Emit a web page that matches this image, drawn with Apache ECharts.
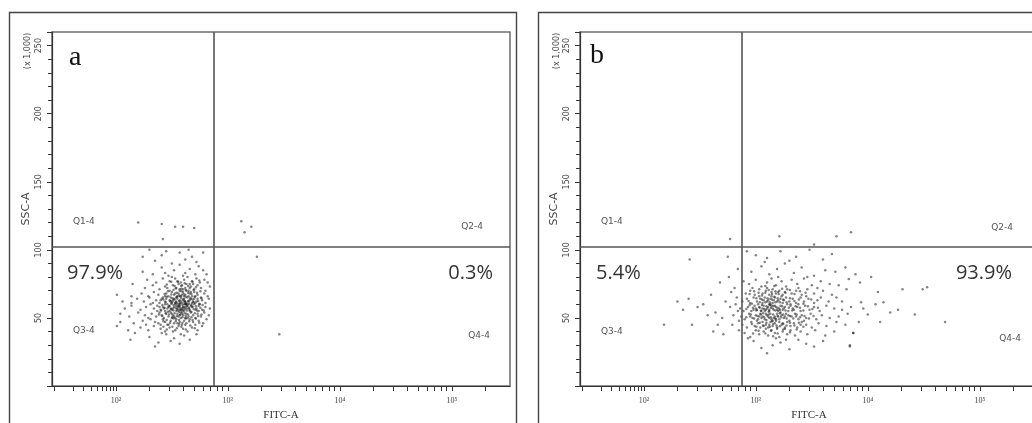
<!DOCTYPE html>
<html>
<head>
<meta charset="utf-8">
<title>FITC-A vs SSC-A quadrant plots</title>
<script src="https://cdn.jsdelivr.net/npm/echarts@6/dist/echarts.min.js"></script>
<style>
  html, body { margin: 0; padding: 0; background: #fff; }
  #main { width: 1032px; height: 423px; }
</style>
</head>
<body>
<div id="main"></div>
<script>
// ---- axis settings ----
const fitcLabelExponents = [2, 3, 4, 5];
const fitcTickLabels = ['10\u00b2', '10\u00b3', '10\u2074', '10\u2075'];
const sscRange = [0, 260];
const sscStep = 50;
const fitcRange = [1.43, 5.52];   // displayed in log10 units

// ---- gates (FITC-A as log10, SSC-A in thousands) ----
const gateFitc = 2.87;
const gateSsc = 102;

// ---- text ----
const panelLetters = ['a', 'b'];
const quadrantNames = ['Q1-4', 'Q2-4', 'Q3-4', 'Q4-4'];
const percentA = ['97.9%', '0.3%'];   // Q3, Q4
const percentB = ['5.4%', '93.9%'];   // Q3, Q4

// ---- events, panel a: [log10 FITC-A, SSC-A (x1000)] ----
const cellsA_Q3 = [
  [2.13,34],[2.17,39],[2.30,36],[2.38,32],[2.45,38],[2.52,35],[2.57,31],[2.61,37],[2.66,34],[2.72,38],[2.49,33],[2.41,39],[2.58,38],[2.35,29],
  [2.11,41],[2.01,44],[2.22,43],[2.29,41],[2.34,44],[2.40,42],[2.44,40],[2.48,43],[2.53,41],[2.56,44],[2.60,42],[2.64,40],[2.68,43],[2.73,41],[2.77,44],[2.51,40],[2.46,45],[2.62,45],
  [2.04,47],[2.16,46],[2.24,48],[2.27,45],[2.31,49],[2.35,47],[2.38,46],[2.42,49],[2.44,47],[2.47,45],[2.49,48],[2.52,46],[2.54,49],[2.57,47],[2.59,45],[2.61,48],[2.63,46],[2.66,49],[2.69,47],[2.71,45],[2.74,48],[2.78,46],[2.81,49],[2.55,46],[2.50,50],[2.64,50],[2.40,45],[2.58,50],
  [2.04,53],[2.12,51],[2.20,54],[2.26,52],[2.29,50],[2.32,53],[2.36,51],[2.39,54],[2.41,52],[2.43,50],[2.45,53],[2.47,51],[2.49,54],[2.51,52],[2.53,50],[2.55,53],[2.56,51],[2.58,54],[2.60,52],[2.62,50],[2.63,53],[2.65,51],[2.67,54],[2.69,52],[2.71,50],[2.73,53],[2.76,51],[2.79,54],[2.83,52],[2.48,55],[2.54,55],[2.61,55],[2.44,55],[2.57,52],[2.66,55],[2.52,51],[2.59,53],[2.37,55],[2.74,55],[2.50,53],
  [2.08,57],[2.14,59],[2.22,56],[2.27,58],[2.31,60],[2.34,57],[2.37,59],[2.40,56],[2.42,58],[2.44,60],[2.46,57],[2.48,59],[2.50,56],[2.52,58],[2.53,60],[2.55,57],[2.57,59],[2.58,56],[2.60,58],[2.61,60],[2.63,57],[2.64,59],[2.66,56],[2.68,58],[2.70,60],[2.72,57],[2.74,59],[2.77,56],[2.80,58],[2.84,57],[2.51,57],[2.56,58],[2.59,57],[2.62,58],[2.65,57],[2.47,58],[2.43,57],[2.54,59],[2.67,59],[2.71,56],[2.49,57],[2.57,56],[2.60,56],[2.63,60],[2.39,58],
  [2.06,62],[2.14,61],[2.19,64],[2.25,62],[2.30,65],[2.33,61],[2.36,63],[2.39,61],[2.41,64],[2.44,62],[2.46,60],[2.48,63],[2.50,61],[2.52,64],[2.54,62],[2.56,60],[2.57,63],[2.59,61],[2.61,64],[2.62,62],[2.64,60],[2.66,63],[2.68,61],[2.70,64],[2.72,62],[2.75,60],[2.77,63],[2.80,61],[2.83,64],[2.53,61],[2.58,62],[2.60,63],[2.63,61],[2.65,62],[2.55,64],[2.67,64],[2.49,62],[2.45,64],[2.71,61],[2.73,64],[2.57,61],[2.62,60],[2.51,63],[2.69,62],[2.40,63],
  [2.14,66],[2.01,67],[2.23,68],[2.29,66],[2.34,69],[2.38,67],[2.42,65],[2.45,68],[2.47,66],[2.50,69],[2.52,67],[2.54,65],[2.56,68],[2.58,66],[2.60,69],[2.62,67],[2.64,65],[2.66,68],[2.68,66],[2.70,69],[2.73,67],[2.76,65],[2.79,68],[2.82,66],[2.57,70],[2.63,70],[2.49,65],[2.59,67],[2.65,66],[2.53,68],[2.71,66],[2.44,66],[2.61,66],[2.67,69],[2.55,66],
  [2.15,75],[2.26,72],[2.33,74],[2.39,71],[2.44,73],[2.48,70],[2.51,74],[2.54,72],[2.57,71],[2.59,74],[2.62,72],[2.65,70],[2.67,73],[2.70,71],[2.73,74],[2.76,72],[2.80,70],[2.84,73],[2.56,75],[2.63,75],[2.69,75],[2.46,72],[2.60,71],[2.66,72],
  [2.28,78],[2.36,76],[2.42,79],[2.48,77],[2.53,79],[2.58,76],[2.61,78],[2.64,80],[2.68,77],[2.72,79],[2.75,76],[2.79,78],[2.82,76],[2.55,77],[2.66,75],[2.50,80],
  [2.24,84],[2.33,82],[2.41,87],[2.47,81],[2.52,85],[2.57,89],[2.62,83],[2.66,86],[2.71,82],[2.74,88],[2.81,82],[2.78,85],[2.44,83],[2.60,81],
  [2.24,95],[2.35,92],[2.45,99],[2.50,90],[2.57,98],[2.62,93],[2.68,95],[2.72,91],[2.78,98],[2.41,96],[2.30,100],[2.65,100]
];
// denser core of the panel a population
const cellsA_core = [
  [2.455,48.5],[2.485,46.5],[2.515,49.5],[2.535,47.5],[2.565,48.5],[2.595,46.5],[2.625,49.5],[2.655,47.5],[2.685,48.5],[2.715,49.5],[2.425,47.5],[2.745,46.5],
  [2.415,51.5],[2.445,53.5],[2.475,52.5],[2.505,50.5],[2.525,53.5],[2.545,51.5],[2.575,52.5],[2.595,50.5],[2.615,53.5],[2.645,52.5],[2.675,50.5],[2.705,53.5],[2.735,51.5],[2.765,52.5],[2.385,52.5],[2.565,54.5],[2.625,51.5],
  [2.405,55.5],[2.435,57.5],[2.465,54.5],[2.495,56.5],[2.515,55.5],[2.535,57.5],[2.555,55.5],[2.575,57.5],[2.595,54.5],[2.615,56.5],[2.635,55.5],[2.655,57.5],[2.675,54.5],[2.695,56.5],[2.725,55.5],[2.755,57.5],[2.785,55.5],[2.545,56.2],[2.605,57.8],[2.585,55.8],
  [2.415,59.5],[2.445,61.5],[2.475,58.5],[2.495,60.5],[2.515,59.5],[2.535,61.5],[2.555,58.5],[2.575,60.5],[2.595,59.5],[2.615,61.5],[2.635,58.5],[2.655,60.5],[2.675,59.5],[2.695,61.5],[2.715,58.5],[2.745,60.5],[2.775,59.5],[2.565,59.2],[2.625,60.2],[2.545,60.8],[2.685,58.2],[2.505,61.8],
  [2.425,63.5],[2.455,65.5],[2.485,62.5],[2.505,64.5],[2.525,63.5],[2.545,65.5],[2.565,62.5],[2.585,64.5],[2.605,63.5],[2.625,65.5],[2.645,62.5],[2.665,64.5],[2.685,63.5],[2.705,65.5],[2.735,62.5],[2.765,64.5],[2.575,65.8],[2.615,62.2],
  [2.435,67.5],[2.465,69.5],[2.495,67.2],[2.515,70.5],[2.545,68.5],[2.565,66.5],[2.585,69.5],[2.605,67.5],[2.625,70.5],[2.645,68.5],[2.675,67.5],[2.695,70.5],[2.725,68.5],[2.755,69.5],[2.585,71.5],[2.535,71.8],
  [2.455,74.5],[2.495,76.5],[2.525,73.5],[2.555,76.5],[2.585,73.5],[2.615,75.5],[2.645,73.5],[2.685,76.5],[2.715,72.5],[2.745,77.5],
  [2.455,41.5],[2.505,43.5],[2.545,42.5],[2.585,43.5],[2.625,41.5],[2.665,44.5],[2.705,42.5],[2.425,43.5],[2.565,45.5]
];
const cellsA_Q1 = [[2.20,120],[2.41,119],[2.53,117],[2.60,117],[2.70,116],[2.42,108]];
const cellsA_Q2 = [[3.12,121],[3.21,117],[3.15,113]];
const cellsA_Q4 = [[3.26,95],[3.46,38]];

// ---- events, panel b ----
const cellsB_Q4 = [
  [3.10,24],[3.15,30],[2.98,33],[3.05,28],[3.22,32],[3.30,27],[3.38,34],[3.45,31],[3.84,30],[3.60,33],[2.93,35],[3.18,35],[3.27,34],[3.52,29],
  [2.90,39],[2.95,36],[3.00,41],[3.03,38],[3.07,40],[3.11,37],[3.14,41],[3.17,39],[3.21,36],[3.24,40],[3.28,38],[3.31,41],[3.35,37],[3.40,40],[3.46,38],[3.53,41],[3.62,37],[3.70,40],[3.87,39],[3.09,42],[3.19,42],[3.26,42],
  [2.88,45],[2.92,43],[2.96,47],[2.99,44],[3.02,46],[3.04,43],[3.06,47],[3.09,45],[3.11,43],[3.13,47],[3.15,44],[3.17,46],[3.19,43],[3.21,47],[3.23,45],[3.26,43],[3.28,47],[3.31,44],[3.34,46],[3.37,43],[3.41,47],[3.45,45],[3.50,43],[3.56,46],[3.63,44],[3.72,47],[3.80,45],[3.92,47],[4.11,47],[3.12,45],[3.18,48],[3.07,44],[3.24,46],[3.01,48],[3.40,45],
  [2.87,51],[2.90,49],[2.94,53],[2.97,50],[3.00,52],[3.02,49],[3.04,53],[3.06,51],[3.08,49],[3.10,52],[3.12,50],[3.13,53],[3.15,48],[3.17,51],[3.19,53],[3.21,49],[3.23,52],[3.25,50],[3.27,53],[3.30,48],[3.32,51],[3.35,53],[3.38,49],[3.41,52],[3.45,50],[3.49,53],[3.54,49],[3.59,52],[3.66,50],[3.74,51],[3.82,53],[4.00,52.6],[4.20,54],[4.42,52.6],[3.11,51],[3.16,50],[3.20,51],[3.09,53],[3.14,49],[3.26,51],[3.05,50],[3.29,52],[3.18,49],[3.03,51],[3.36,51],[3.22,54],[2.95,51],[3.43,48],
  [2.86,57],[2.89,55],[2.93,58],[2.96,55],[2.99,59],[3.01,56],[3.03,58],[3.05,55],[3.07,59],[3.09,56],[3.11,58],[3.12,55],[3.14,59],[3.16,56],[3.18,58],[3.20,55],[3.22,59],[3.24,56],[3.26,58],[3.29,55],[3.31,59],[3.34,56],[3.37,58],[3.40,55],[3.44,59],[3.48,56],[3.52,58],[3.57,55],[3.63,59],[3.70,57],[3.77,56],[3.85,58],[3.96,57],[4.07,60],[4.27,56],[3.10,57],[3.15,57],[3.19,56],[3.13,60],[3.06,57],[3.25,57],[3.00,57],[3.21,57],[3.28,60],[3.08,55],[3.17,59],[3.33,57],[2.98,56],[3.12,56],[3.38,60],
  [2.88,62],[2.92,64],[2.95,61],[2.98,65],[3.01,62],[3.04,64],[3.06,61],[3.08,65],[3.10,62],[3.13,64],[3.15,61],[3.17,65],[3.19,62],[3.22,64],[3.24,61],[3.27,65],[3.30,62],[3.33,64],[3.36,61],[3.40,65],[3.43,62],[3.47,64],[3.52,61],[3.58,65],[3.65,62],[3.77,62],[3.94,61.5],[4.14,61.5],[3.11,63],[3.16,63],[3.20,63],[3.07,63],[3.25,63],[3.02,60],[3.14,66],[3.23,66],[3.31,60],[3.45,66],[3.03,66],[3.55,63],[3.72,65],[3.12,60],
  [2.91,68],[2.95,70],[2.99,67],[3.03,71],[3.06,68],[3.09,70],[3.12,67],[3.15,71],[3.18,68],[3.21,70],[3.24,67],[3.28,71],[3.32,68],[3.36,70],[3.41,67],[3.46,71],[3.52,68],[3.60,70],[3.68,67],[3.81,71],[4.09,69],[4.31,71],[4.49,71],[3.14,69],[3.20,69],[3.26,69],[3.10,72],[2.97,72],[3.38,72],[3.55,72],
  [2.94,75],[3.00,78],[3.05,73],[3.10,76],[3.14,79],[3.18,74],[3.23,77],[3.27,73],[3.32,78],[3.37,75],[3.43,79],[3.50,74],[3.58,77],[3.66,75],[3.83,78.5],[3.93,76],[4.03,80],[4.53,72.6],[2.89,77],[3.20,80],[3.46,80],[3.74,74],
  [2.96,84],[3.05,88],[3.12,82],[3.19,86],[3.26,90],[3.34,83],[3.41,87],[3.52,81],[3.62,85],[3.71,84],[3.80,87],[3.89,82],[3.08,91],[3.30,92],
  [3.00,96],[3.10,94],[3.22,99],[3.36,95],[3.48,100],[3.60,93],[2.92,99],[3.68,97],
  [4.69,47],[3.84,29],[3.87,39]
];
// denser core of the panel b population
const cellsB_core = [
  [2.965,45.5],[3.005,43.5],[3.035,46.5],[3.065,44.5],[3.095,46.5],[3.125,43.5],[3.155,45.5],[3.185,44.5],[3.215,43.8],[3.245,45.5],[3.275,44.5],[3.305,46.5],[3.345,44.5],[3.385,46.5],[3.425,43.5],[3.145,47.5],
  [2.915,50.5],[2.955,52.5],[2.985,49.5],[3.015,51.5],[3.045,52.5],[3.075,50.5],[3.095,48.5],[3.115,52.5],[3.135,50.5],[3.155,52.5],[3.175,49.5],[3.195,51.5],[3.225,50.5],[3.245,52.5],[3.275,49.5],[3.305,51.5],[3.335,49.5],[3.365,52.5],[3.395,50.5],[3.435,51.5],[3.475,49.5],[3.515,51.5],[3.065,53.5],[3.215,53.5],
  [2.915,56.5],[2.945,59.5],[2.975,57.5],[3.005,55.5],[3.035,57.5],[3.055,59.5],[3.075,56.5],[3.095,58.5],[3.115,54.5],[3.135,57.5],[3.155,58.8],[3.175,55.5],[3.195,57.5],[3.215,55.8],[3.235,58.5],[3.265,55.5],[3.295,57.5],[3.325,55.5],[3.355,58.5],[3.395,57.5],[3.425,55.5],[3.465,58.5],[3.505,56.5],[3.555,57.5],[3.125,59.5],[3.045,55.2],
  [2.935,62.5],[2.965,60.5],[3.005,64.5],[3.035,61.5],[3.055,63.5],[3.085,61.5],[3.105,64.5],[3.125,61.5],[3.145,63.5],[3.175,61.5],[3.195,64.5],[3.215,61.5],[3.245,63.5],[3.275,61.5],[3.305,64.5],[3.345,62.5],[3.385,63.5],[3.425,60.5],[3.495,63.5],[3.165,65.5],
  [2.945,67.5],[2.985,69.5],[3.025,68.5],[3.055,66.5],[3.085,68.5],[3.115,70.5],[3.145,67.5],[3.175,69.5],[3.205,67.5],[3.235,71.5],[3.265,68.5],[3.305,70.5],[3.345,67.5],[3.395,69.5],[3.445,68.5],[3.165,73.5],[3.085,73.5],
  [2.975,38.5],[3.025,40.5],[3.085,38.5],[3.135,40.5],[3.195,38.5],[3.245,41.5],[3.305,39.5],[3.365,41.5],[3.155,36.5]
];
const cellsB_Q3 = [
  [2.41,93],[2.75,95],[2.68,76],[2.35,56],[2.53,60],[2.64,54],[2.70,50],[2.77,58],[2.79,45],[2.43,45],[2.18,45],[2.83,65],[2.81,72],[2.71,38],
  [2.40,64],[2.60,67],[2.73,62],[2.80,52],[2.84,55],[2.85,48],[2.82,60],[2.78,69],[2.66,45],[2.57,52],[2.48,58],[2.85,41],[2.76,80],[2.84,86],[2.62,40],[2.30,62]
];
const cellsB_Q1 = [[2.77,108]];
const cellsB_Q2 = [[3.21,110],[3.72,110],[3.85,113],[3.52,104]];

// tick positions along the FITC-A axis: log decades above 100, compressed region below
function fitcTickPositions() {
  const out = [];
  for (let e = 1; e <= 5; e++) {
    for (let k = 1; k <= 9; k++) {
      if (e === 5 && k > 2) break;
      const lg = e + Math.log10(k);
      out.push(lg >= 2 ? lg : 2 - 0.55 * (2 - lg));
    }
  }
  return out;
}
const fitcTicks = fitcTickPositions();

const axisColor = '#333';
const grids = [
  { left: 52, top: 32, width: 458, height: 354 },
  { left: 580, top: 32, width: 458, height: 354 }
];

function makeXAxis(gi) {
  return {
    gridIndex: gi, type: 'value', min: fitcRange[0], max: fitcRange[1],
    name: 'FITC-A', nameLocation: 'middle', nameGap: 21,
    nameTextStyle: { fontFamily: 'Liberation Serif', fontSize: 11, color: '#333' },
    axisLine: { show: true, onZero: false, lineStyle: { color: axisColor, width: 1.2 } },
    axisTick: { show: true, inside: false, length: 5, customValues: fitcTicks, lineStyle: { color: axisColor, width: 1 } },
    axisLabel: {
      show: true, customValues: fitcLabelExponents, margin: 11,
      fontFamily: 'Liberation Serif', fontSize: 8, color: '#444',
      formatter: v => fitcTickLabels[fitcLabelExponents.indexOf(Math.round(v))] || ''
    },
    splitLine: { show: false }
  };
}
function makeYAxis(gi) {
  return {
    gridIndex: gi, type: 'value', min: sscRange[0], max: sscRange[1], interval: sscStep,
    name: 'SSC-A', nameLocation: 'middle', nameGap: 20, nameRotate: 90,
    nameTextStyle: { fontFamily: 'DejaVu Sans', fontSize: 11, color: '#444' },
    axisLine: { show: true, onZero: false, lineStyle: { color: axisColor, width: 1.2 } },
    axisTick: { show: true, length: 5, lineStyle: { color: axisColor } },
    minorTick: { show: true, splitNumber: 5, length: 4, lineStyle: { color: axisColor } },
    axisLabel: {
      rotate: 90, margin: 9, fontFamily: 'DejaVu Sans', fontSize: 8, color: '#444',
      formatter: v => (v === 0 ? '' : String(v))
    },
    splitLine: { show: false }, minorSplitLine: { show: false }
  };
}

const gateLines = {
  silent: true, symbol: 'none', animation: false,
  label: { show: false },
  lineStyle: { color: '#555', width: 1.6, type: 'solid' },
  data: [{ xAxis: gateFitc }, { yAxis: gateSsc }]
};

function cellSeries(gi, data) {
  return {
    type: 'scatter', xAxisIndex: gi, yAxisIndex: gi, data: data,
    symbol: 'circle', symbolSize: 2.5, silent: true, large: false,
    itemStyle: { color: 'rgba(25,25,25,0.68)' },
    markLine: gateLines
  };
}

function label(x, y, text, font, align, fill) {
  return { type: 'text', x: x, y: y, silent: true,
    style: { text: text, font: font, fill: fill || '#333', align: align, verticalAlign: 'middle' } };
}
const pctFont = '20px "Open Sans"';
const qFont = '9px "DejaVu Sans"';
const letterFont = '28px "Liberation Serif"';

const graphics = [
  { type: 'rect', silent: true, shape: { x: 9.5, y: 12.5, width: 507, height: 430 },
    style: { fill: 'none', stroke: '#444', lineWidth: 1.4 } },
  { type: 'rect', silent: true, shape: { x: 538.5, y: 12.5, width: 520, height: 430 },
    style: { fill: 'none', stroke: '#444', lineWidth: 1.4 } },
  { type: 'text', x: 28, y: 51, rotation: Math.PI / 2, silent: true,
    style: { text: '(x 1,000)', font: '8px "DejaVu Sans"', fill: '#444', align: 'center', verticalAlign: 'middle' } },
  { type: 'text', x: 557, y: 51, rotation: Math.PI / 2, silent: true,
    style: { text: '(x 1,000)', font: '8px "DejaVu Sans"', fill: '#444', align: 'center', verticalAlign: 'middle' } },
  label(69, 57.5, panelLetters[0], letterFont, 'left', '#111'),
  label(590, 55.5, panelLetters[1], letterFont, 'left', '#111'),
  label(67, 273, percentA[0], pctFont, 'left'),
  label(493, 273, percentA[1], pctFont, 'right'),
  label(596, 273, percentB[0], pctFont, 'left'),
  label(1012, 273, percentB[1], pctFont, 'right'),
  label(73, 222, quadrantNames[0], qFont, 'left', '#555'),
  label(483, 227, quadrantNames[1], qFont, 'right', '#555'),
  label(73, 331, quadrantNames[2], qFont, 'left', '#555'),
  label(490, 336, quadrantNames[3], qFont, 'right', '#555'),
  label(601, 222, quadrantNames[0], qFont, 'left', '#555'),
  label(1013, 228, quadrantNames[1], qFont, 'right', '#555'),
  label(601, 332, quadrantNames[2], qFont, 'left', '#555'),
  label(1021, 339, quadrantNames[3], qFont, 'right', '#555')
];

const chart = echarts.init(document.getElementById('main'), null, { renderer: 'canvas' });
chart.setOption({
  animation: false,
  backgroundColor: '#fff',
  grid: grids.map(g => Object.assign({
    show: true, backgroundColor: '#fff', borderColor: '#6e6e6e', borderWidth: 1.5,
    outerBoundsMode: 'none', containLabel: false
  }, g)),
  xAxis: [makeXAxis(0), makeXAxis(1)],
  yAxis: [makeYAxis(0), makeYAxis(1)],
  series: [
    cellSeries(0, cellsA_Q3.concat(cellsA_core, cellsA_Q1, cellsA_Q2, cellsA_Q4)),
    cellSeries(1, cellsB_Q4.concat(cellsB_core, cellsB_Q3, cellsB_Q1, cellsB_Q2))
  ],
  graphic: graphics
});
</script>
</body>
</html>
